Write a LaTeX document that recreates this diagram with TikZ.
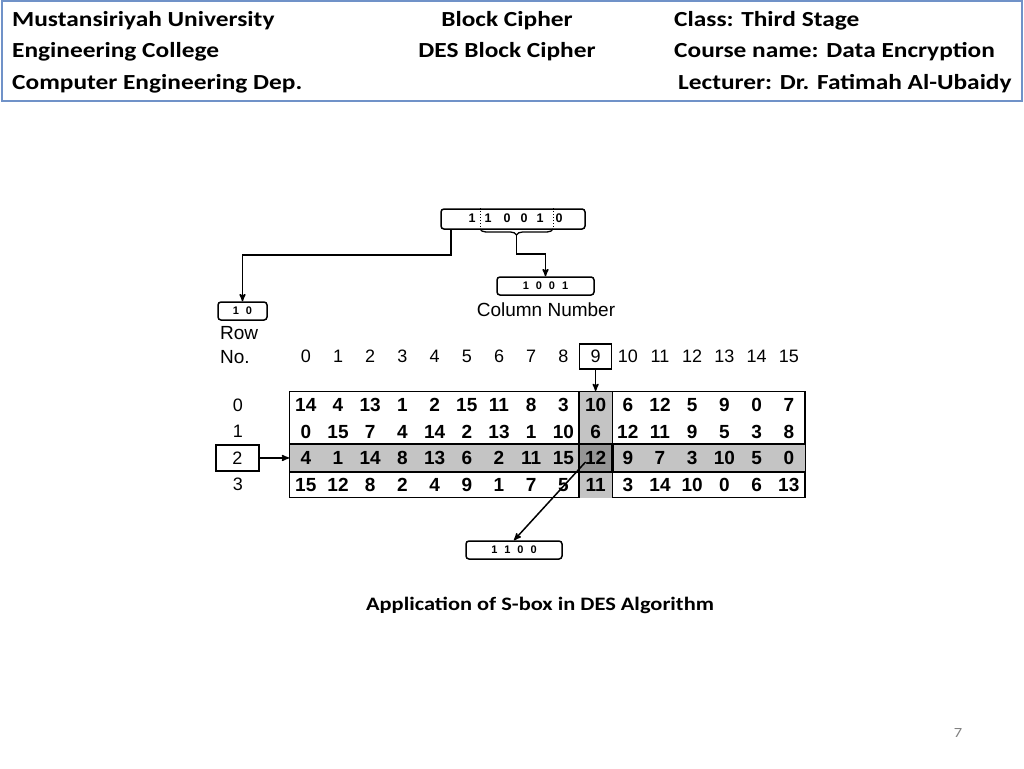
\documentclass[tikz,border=0pt]{standalone}
\usepackage{fontspec}
\setmainfont{Carlito}[FakeStretch=1.18]
\newfontfamily\arialfont{Liberation Sans}
\usetikzlibrary{arrows}
\usetikzlibrary{calc}
\usetikzlibrary{decorations.pathreplacing}
\usetikzlibrary{positioning}
\usetikzlibrary{matrix}
\definecolor{headblue}{RGB}{112,146,200}
\definecolor{bandgray}{RGB}{196,196,196}
\definecolor{crossgray}{RGB}{150,150,150}
\newcommand{\bitgap}{\hspace{7pt}}
\tikzset{
  sboxtable/.style={
    matrix of nodes, draw, line width=1.4pt,
    inner sep=0pt, row sep=0pt, column sep=0pt,
    nodes={anchor=base, inner sep=0, minimum width=32.2pt, minimum height=26.5pt,
      text height=13.6pt, text depth=0pt,
      font=\arialfont\bfseries\fontsize{19}{19}\selectfont},
    row 3/.style={nodes={fill=bandgray}},
    column 10/.style={nodes={fill=bandgray}},
    row 3 column 10/.style={nodes={fill=crossgray}},
    ampersand replacement=\&
  },
  headtext/.style={inner sep=0, font=\bfseries\fontsize{21.5}{24}\selectfont},
  numtext/.style={inner sep=0, font=\arialfont\fontsize{18}{18}\selectfont},
  bitbox/.style={draw, line width=1.5pt, rounded corners=3pt, inner sep=0,
    font=\arialfont\bfseries\fontsize{11}{11}\selectfont},
  bitdigit/.style={inner sep=0, font=\arialfont\bfseries\fontsize{12.5}{12.5}\selectfont},
  link/.style={->, >=stealth', line width=1.5pt},
  gridline/.style={line width=1.5pt}
}

\begin{document}
\begin{tikzpicture}[x=1pt, y=-1pt]
  \useasboundingbox (0,0) rectangle (1024,768);
  % header
  \draw[headblue, line width=2pt] (2,1) rectangle (1022,101);
  \node[headtext, anchor=base west] (uni) at (12,27) {Mustansiriyah University};
  \node[headtext, anchor=base west] (college) at (12,58) {Engineering College};
  \node[headtext, anchor=base west] (dept) at (12,89) {Computer Engineering Dep.};
  \node[headtext, anchor=base] (subject) at (507,27) {Block Cipher};
  \node[headtext, anchor=base] (topic) at (507,58) {DES Block Cipher};
  \node[headtext, anchor=base west] (class) at (674,27) {Class: Third Stage};
  \node[headtext, anchor=base west] (course) at (674,58) {Course name: Data Encryption};
  \node[headtext, anchor=base west] (lecturer) at (678,89) {Lecturer: Dr. Fatimah Al-Ubaidy};

  % input bits
  \node[bitbox, minimum width=144pt, minimum height=20pt] (inbits) at (513,219) {};
  \foreach \x/\b in {472/1,488/1,507/0,524/0,540/1,559/0}
    \node[bitdigit] at (\x,218) {\b};
  \draw[dotted, line width=1pt] (480,0 |- inbits.north) -- (480,0 |- inbits.south);
  \draw[dotted, line width=1pt] (553,0 |- inbits.north) -- (553,0 |- inbits.south);
  \draw[decorate, decoration={brace, mirror, amplitude=6pt}, line width=1.3pt]
    (480,229) -- (553,229);
  \coordinate (bracetip) at (516.5,235);
  \coordinate (rowtap) at (451,0 |- inbits.south);

  \node[bitbox, minimum width=49pt, minimum height=18pt] (rowbits) at (242.5,311) {1\bitgap 0};
  \node[bitbox, minimum width=97pt, minimum height=18pt] (colbits) at (545.5,286) {1\bitgap 0\bitgap 0\bitgap 1};
  \node[numtext, font=\arialfont\fontsize{19}{19}\selectfont] (collabel) at (546,310) {Column Number};
  \node[numtext, anchor=north west, align=left, font=\arialfont\fontsize{19}{24}\selectfont]
    (rowlabel) at (220,326) {Row\\No.};

  \draw[link] (rowtap) -- ++(0,25) -| (rowbits.north);
  \draw[link] (bracetip) -- ++(0,19) -| (colbits.north);

  % s-box table
  \matrix (sbox) [sboxtable, anchor=north west] at (289,391) {
14 \& 4 \& 13 \& 1 \& 2 \& 15 \& 11 \& 8 \& 3 \& 10 \& 6 \& 12 \& 5 \& 9 \& 0 \& 7 \\
0 \& 15 \& 7 \& 4 \& 14 \& 2 \& 13 \& 1 \& 10 \& 6 \& 12 \& 11 \& 9 \& 5 \& 3 \& 8 \\
4 \& 1 \& 14 \& 8 \& 13 \& 6 \& 2 \& 11 \& 15 \& 12 \& 9 \& 7 \& 3 \& 10 \& 5 \& 0 \\
15 \& 12 \& 8 \& 2 \& 4 \& 9 \& 1 \& 7 \& 5 \& 11 \& 3 \& 14 \& 10 \& 0 \& 6 \& 13 \\
  };
  \draw[gridline] (sbox-1-10.north west) -- (sbox-4-10.south west);
  \draw[gridline] (sbox-1-10.north east) -- (sbox-4-10.south east);
  \draw[gridline] (sbox-3-1.north west) -- (sbox-3-16.north east);
  \draw[gridline] (sbox-3-1.south west) -- (sbox-3-16.south east);
  \draw[line width=2.2pt] (sbox-3-10.north west) rectangle (sbox-3-10.south east);

  % column and row numbers
  \foreach \i [count=\j] in {0,...,8}
    \node[numtext] (c\i) at (sbox-1-\j |- 0,356) {\i};
  \foreach \i [count=\j from 11] in {10,...,15}
    \node[numtext] (c\i) at (sbox-1-\j |- 0,356) {\i};
  \node[numtext, draw, line width=1.5pt, minimum width=32pt, minimum height=25pt]
    (c9) at (sbox-1-10 |- 0,356.5) {9};
  \foreach \r/\j in {0/1,1/2,3/4}
    \node[numtext] (r\r) at (238,0 |- sbox-\j-1) {\r};
  \node[numtext, draw, line width=1.5pt, minimum width=43pt, minimum height=26pt]
    (r2) at (237.5,0 |- sbox-3-1) {2};

  \draw[link] (c9) -- (sbox-1-10.north);
  \draw[link] (r2) -- (sbox-3-1.west);

  % output bits
  \node[bitbox, minimum width=96pt, minimum height=18pt] (outbits) at (514,550) {1\bitgap 1\bitgap 0\bitgap 0};
  \draw[link] ($(sbox-3-10.center)+(-10,4)$) -- (outbits.north);

  \node[inner sep=0, font=\bfseries\fontsize{19}{19}\selectfont] (caption) at (540,605)
    {Application of S-box in DES Algorithm};
  \node[inner sep=0, text=gray, font=\fontsize{14}{14}\selectfont] (pagenum) at (958,733) {7};
\end{tikzpicture}
\end{document}
